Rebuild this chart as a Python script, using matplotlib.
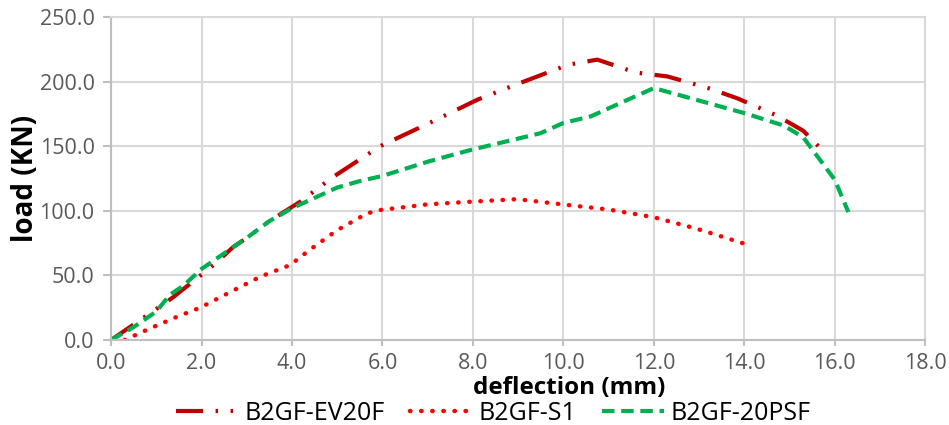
import matplotlib.pyplot as plt
from matplotlib.ticker import FuncFormatter

plt.rcParams['font.family'] = ['Open Sans', 'DejaVu Sans']

# ---- data -------------------------------------------------------------
ev20f_x = [0.0, 0.5, 1.0, 1.37, 1.8, 2.3, 2.7, 3.0, 3.5, 4.18, 4.9, 5.95,
           7.1, 8.1, 8.9, 10.1, 10.75, 11.6, 12.3, 13.2, 13.85, 14.7, 15.3,
           15.64]
ev20f_y = [0.0, 12.0, 24.0, 33.0, 45.0, 59.0, 72.0, 79.0, 92.0, 107.0,
           126.0, 150.0, 169.0, 186.0, 197.0, 213.0, 217.0, 207.0, 204.0,
           195.0, 187.0, 174.0, 162.0, 150.0]

s1_x = [0.3, 0.8, 1.46, 1.97, 2.63, 3.3, 3.96, 4.4, 5.0, 5.66, 5.95, 7.0,
        7.94, 8.98, 9.97, 11.0, 12.0, 12.96, 13.96]
s1_y = [0.0, 8.0, 18.0, 25.0, 37.0, 49.0, 58.0, 70.0, 85.0, 98.0, 100.6,
        105.0, 107.0, 109.0, 105.0, 101.0, 95.0, 86.0, 75.0]

psf_x = [0.0, 0.5, 1.0, 1.3, 1.6, 2.0, 2.5, 3.0, 3.5, 4.0, 4.5, 5.0, 5.5,
         6.0, 7.0, 7.94, 9.49, 10.0, 10.6, 12.0, 14.0, 14.87, 15.3, 16.0,
         16.3]
psf_y = [0.0, 10.0, 22.0, 35.0, 42.0, 55.0, 67.0, 79.0, 92.0, 102.0, 110.0,
         118.0, 123.0, 127.0, 138.0, 147.0, 160.0, 168.0, 173.0, 195.0,
         175.6, 166.0, 157.0, 124.0, 99.0]

labels = ['B2GF-EV20F', 'B2GF-S1', 'B2GF-20PSF']

# ---- figure -----------------------------------------------------------
fig = plt.figure(figsize=(9.49, 4.25), dpi=100)
ax = fig.add_axes([0.117, 0.2, 0.858, 0.76])

ax.plot(ev20f_x, ev20f_y, color='#C00000', lw=3,
        dashes=(6.5, 3, 0.6, 3, 0.6, 3), label=labels[0])
ax.plot(s1_x, s1_y, color='#FF0000', lw=3.2, linestyle=(0, (0.1, 2.4)),
        dash_capstyle='round', label=labels[1])
ax.plot(psf_x, psf_y, color='#00B050', lw=3, dashes=(3, 1.6),
        label=labels[2])

ax.set_xlim(0, 18)
ax.set_ylim(0, 250)
ax.set_xticks(range(0, 19, 2))
ax.set_yticks(range(0, 251, 50))
fmt = FuncFormatter(lambda v, p: f'{v:.1f}')
ax.xaxis.set_major_formatter(fmt)
ax.yaxis.set_major_formatter(fmt)

ax.grid(True, color='#D9D9D9', lw=1.5)
ax.set_axisbelow(True)
for s in ax.spines.values():
    s.set_color('#D9D9D9')
    s.set_linewidth(1.5)
ax.spines['left'].set_color('#BFBFBF')
ax.spines['bottom'].set_color('#BFBFBF')
ax.tick_params(axis='both', colors='#BFBFBF', labelcolor='#595959',
               labelsize=15.5, width=1.5)
ax.tick_params(axis='x', length=4.3, pad=5)
ax.tick_params(axis='y', length=5.8, pad=6)

ax.set_ylabel('load (KN)', fontsize=20, fontweight='bold', labelpad=0)
fig.text(0.6, 0.087, 'deflection (mm)', fontsize=17.5, fontweight='bold',
         ha='center', va='center')

fig.legend(loc='center', bbox_to_anchor=(0.52, 0.028), ncol=3,
           frameon=False, fontsize=18, handlelength=2.5,
           columnspacing=1.0, handletextpad=0.25, borderpad=0.05)

fig.savefig('out.png', dpi=100)
